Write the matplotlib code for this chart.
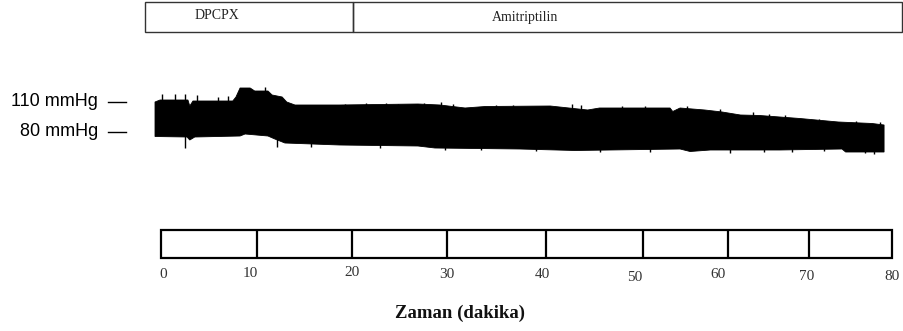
import matplotlib
matplotlib.use("Agg")
import matplotlib.pyplot as plt
from matplotlib.patches import Rectangle
from matplotlib.lines import Line2D
from matplotlib.transforms import blended_transform_factory
import numpy as np

''' Data read off the recording (time in minutes, pressure in mmHg) '''
# upper edge of the pressure band (systolic)
top_t = [-0.6, -0.05, 3.0, 3.2, 3.55, 7.9, 8.25, 8.7, 9.8, 10.3, 11.75, 12.2, 13.3, 13.8,
         14.7, 19.6, 28.15, 30.55, 33.3, 35.5, 42.6, 46.7, 48.0, 55.7, 56.0, 56.8, 59.5,
         61.4, 63.4, 65.5, 69.9, 74.1, 77.8, 79.1]
top_p = [110, 112, 112, 106, 111, 111, 115, 124, 124, 121, 121, 117, 115, 110,
         107, 107, 108, 107, 104, 105.5, 106, 102, 104, 104, 100.5, 104, 102,
         100, 97, 96.5, 93.5, 90, 88.5, 87]
# lower edge of the pressure band (diastolic)
bot_t = [-0.6, 2.9, 3.2, 3.75, 8.7, 9.25, 11.75, 12.5, 13.6, 19.6, 28.15, 30.0, 39.3,
         45.3, 56.8, 57.9, 60.1, 67.7, 74.5, 74.9, 79.1]
bot_p = [75.5, 75, 72, 75, 76, 78, 76, 73, 69, 67, 66, 64, 63,
         61.5, 63, 60.5, 62, 62, 63, 60, 60]
# single beats sticking out of the band
spike_t = [0.16, 1.59, 2.68, 3.99, 6.29, 7.38, 11.42, 20.2, 22.5, 24.6, 26.0, 28.8,
           30.66, 32.0, 36.7, 38.5, 44.98, 46.0, 50.5, 53.0, 57.6, 61.2, 64.8, 66.5,
           68.3, 72.0, 76.0, 78.7,
           2.68, 12.74, 16.5, 24.0, 31.1, 35.0, 41.0, 48.0, 53.5, 62.25, 66.0, 69.0,
           72.5, 77.0, 78.0]
spike_p = [118, 118, 118, 117, 115.3, 116, 125.3, 108.5, 109, 109, 108.5, 109.5,
           110.3, 108.5, 107.5, 107.5, 108, 107, 106, 106, 106, 102.7, 99.7, 98,
           97, 93, 91, 90.3,
           64, 65.3, 65, 64.5, 62, 62, 61.5, 60, 60, 58.7, 60.5, 60.5,
           61, 59.3, 58.5]

ref_levels = [110, 80]
ref_labels = ["110 mmHg", "80 mmHg"]

phase_names = ["DPCPX", "Amitriptilin"]
phase_start = [-1.69, 21.04]
phase_end = [21.04, 81.06]

tick_labels = ["0", "10", "20", "30", "40", "50", "60", "70", "80"]
divider_t = [0, 10.52, 20.93, 31.32, 42.11, 52.71, 62.01, 70.86, 80]
label_t = [0.27, 9.78, 20.9, 31.29, 41.7, 51.87, 60.94, 70.64, 79.93]

''' Figure '''
W_PX, H_PX = 904, 331
fig = plt.figure(figsize=(W_PX / 100, H_PX / 100), dpi=100)
fig.patch.set_facecolor("white")

serif = "Liberation Serif"
sans = "Liberation Sans"

L = 160.5 / W_PX
W = 731.8 / W_PX

ax_top = fig.add_axes([L, 1 - 32 / H_PX, W, 30.3 / H_PX])
ax_trace = fig.add_axes([L, 1 - 160 / H_PX, W, 80 / H_PX])
ax_time = fig.add_axes([L, 1 - 258 / H_PX, W, 28 / H_PX])
for ax in (ax_top, ax_trace, ax_time):
    ax.set_xlim(0, 80)
    ax.axis("off")

''' Phase bar '''
ax_top.set_ylim(0, 1)
for s, e in zip(phase_start, phase_end):
    ax_top.add_patch(Rectangle((s, 0), e - s, 1, fill=False, ec="#333333",
                               lw=1.0, clip_on=False))
ax_top.text(6.12, 0.55, phase_names[0], ha="center", va="center",
            family=serif, fontsize=10, color="#222222")
ax_top.text(39.85, 0.48, phase_names[1], ha="center", va="center",
            family=serif, fontsize=10, color="#222222")

''' Pressure trace '''
ax_trace.set_ylim(52, 132)
band_x = np.concatenate([top_t, bot_t[::-1]])
band_y = np.concatenate([top_p, bot_p[::-1]])
ax_trace.fill(band_x, band_y, color="black", lw=0.6, ec="black", clip_on=False)
ax_trace.vlines(spike_t, 85, spike_p, color="black", lw=1.0, clip_on=False)

tr = blended_transform_factory(fig.transFigure, ax_trace.transData)
for lev, lab in zip(ref_levels, ref_labels):
    ax_trace.text(98 / W_PX, lev, lab, transform=tr, ha="right", va="center",
                  family=sans, fontsize=13, color="black", clip_on=False)
    ax_trace.add_line(Line2D([108 / W_PX, 126 / W_PX], [lev, lev], transform=tr,
                             color="black", lw=1.0, clip_on=False))

''' Time scale '''
ax_time.set_ylim(0, 1)
ax_time.add_patch(Rectangle((0, 0), 80, 1, fill=False, ec="black", lw=1.6,
                            clip_on=False))
ax_time.vlines(divider_t[1:-1], 0, 1, color="black", lw=1.6, clip_on=False)
label_drop = [17, 15.7, 15, 17, 16.3, 19.7, 16, 18, 18]
for t, lab, d in zip(label_t, tick_labels, label_drop):
    ax_time.text(t, -d / 28, lab, ha="center", va="center", family=serif,
                 fontsize=11, color="#333333", clip_on=False)

fig.text(460 / W_PX, 1 - 313 / H_PX, "Zaman (dakika)", ha="center", va="center",
         family=serif, fontweight="bold", fontsize=13.5, color="#111111")

fig.savefig("out.png", dpi=100, facecolor="white")
